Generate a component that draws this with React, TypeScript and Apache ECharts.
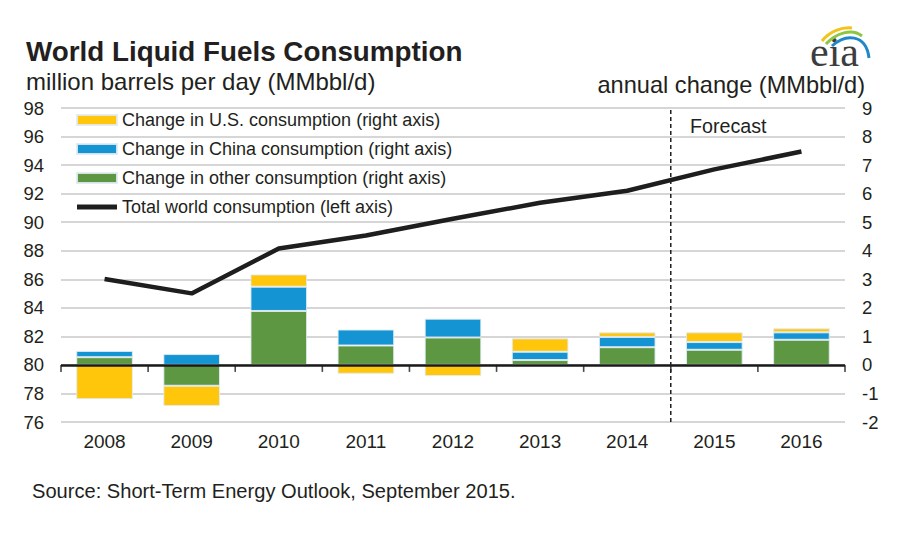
import React, { useEffect, useRef } from "react";
import * as echarts from "echarts";

const years = ["2008", "2009", "2010", "2011", "2012", "2013", "2014", "2015", "2016"];
const otherChange = [0.27, -0.73, 1.89, 0.68, 0.96, 0.17, 0.62, 0.53, 0.88];
const chinaChange = [0.22, 0.38, 0.85, 0.56, 0.66, 0.29, 0.36, 0.27, 0.26];
const usChange = [-1.2, -0.71, 0.43, -0.31, -0.39, 0.47, 0.16, 0.34, 0.14];
const worldTotal = [86.02, 85.01, 88.15, 89.07, 90.24, 91.36, 92.2, 93.7, 94.95];
const forecastBoundary = [[7, 76], [7, 98]];
const zeroChange = 0;
// category boundaries on the zero line (0 .. number of years)
const boundaryTicks = [0, 1, 2, 3, 4, 5, 6, 7, 8, 9].map((b) => [b, zeroChange]);

const FONT = "'Liberation Sans', Arial, sans-serif";
const TXT = "#231f20";

export default function App() {
  const ref = useRef<HTMLDivElement>(null);
  useEffect(() => {
    if (!ref.current) return;
    const chart = echarts.init(ref.current, undefined, { renderer: "svg" });
    const barBorder = { borderColor: "rgba(225,235,242,0.9)", borderWidth: 1 };
    chart.setOption({
      animation: false,
      backgroundColor: "#ffffff",
      textStyle: { fontFamily: FONT },
      grid: { left: 61, right: 52, top: 108, bottom: 118, containLabel: false },
      legend: {
        orient: "vertical",
        left: 76,
        top: 111,
        padding: 0,
        itemWidth: 40,
        itemHeight: 10,
        itemGap: 11,
        selectedMode: false,
        textStyle: { fontSize: 18, color: TXT, fontFamily: FONT },
        data: [
          { name: "Change in U.S. consumption (right axis)", icon: "rect" },
          { name: "Change in China consumption (right axis)", icon: "rect" },
          { name: "Change in other consumption (right axis)", icon: "rect" },
          { name: "Total world consumption (left axis)", icon: "path://M0,0 L40,0 L40,5 L0,5 Z" },
        ],
      },
      xAxis: [
        {
          type: "category",
          data: years,
          position: "bottom",
          axisLine: { show: false, onZero: false },
          axisTick: { show: false },
          axisLabel: { fontSize: 19, color: TXT, margin: 10, fontFamily: FONT },
          splitLine: { show: false },
        },
        { type: "value", min: 0, max: years.length, show: false },
      ],
      yAxis: [
        {
          type: "value",
          min: 76,
          max: 98,
          interval: 2,
          position: "left",
          axisLine: { show: false },
          axisTick: { show: false },
          axisLabel: { fontSize: 18.5, color: TXT, margin: 17, fontFamily: FONT },
          splitLine: { show: true, lineStyle: { color: "#c8c8c8", width: 1.5 } },
        },
        {
          type: "value",
          min: -2,
          max: 9,
          interval: 1,
          position: "right",
          axisLine: { show: false },
          axisTick: { show: false },
          axisLabel: { fontSize: 18.5, color: TXT, margin: 17, fontFamily: FONT },
          splitLine: { show: false },
        },
      ],
      series: [
        {
          name: "Change in other consumption (right axis)",
          type: "bar",
          stack: "chg",
          xAxisIndex: 0,
          yAxisIndex: 1,
          barWidth: "65%",
          data: otherChange,
          itemStyle: { color: "#5d9741", ...barBorder },
        },
        {
          name: "Change in China consumption (right axis)",
          type: "bar",
          stack: "chg",
          xAxisIndex: 0,
          yAxisIndex: 1,
          barWidth: "65%",
          data: chinaChange,
          itemStyle: { color: "#1594d3", ...barBorder },
        },
        {
          name: "Change in U.S. consumption (right axis)",
          type: "bar",
          stack: "chg",
          xAxisIndex: 0,
          yAxisIndex: 1,
          barWidth: "65%",
          data: usChange,
          itemStyle: { color: "#ffc60b", ...barBorder },
          markLine: {
            silent: true,
            symbol: "none",
            label: { show: false },
            lineStyle: { color: "#1a1a1a", width: 2.5, type: "solid" },
            data: [{ yAxis: zeroChange }],
          },
        },
        {
          name: "zero-axis-ticks",
          type: "scatter",
          xAxisIndex: 1,
          yAxisIndex: 1,
          data: boundaryTicks,
          symbol: "rect",
          symbolSize: [1.6, 7],
          symbolOffset: [0, 3.5],
          silent: true,
          z: 4,
          itemStyle: { color: "#1a1a1a" },
        },
        {
          name: "Total world consumption (left axis)",
          type: "line",
          xAxisIndex: 0,
          yAxisIndex: 0,
          data: worldTotal,
          symbol: "none",
          z: 5,
          lineStyle: { color: "#1e1e1e", width: 4.5 },
          itemStyle: { color: "#1e1e1e" },
        },
        {
          name: "forecast-divider",
          type: "line",
          xAxisIndex: 1,
          yAxisIndex: 0,
          data: forecastBoundary,
          symbol: "none",
          silent: true,
          z: 6,
          lineStyle: { color: "#222222", width: 1.5, type: [4, 3] },
        },
      ],
      graphic: [
        {
          type: "text",
          left: 26,
          top: 37,
          style: { text: "World Liquid Fuels Consumption", font: `bold 27.8px ${FONT}`, fill: TXT },
        },
        {
          type: "text",
          left: 26,
          top: 69,
          style: { text: "million barrels per day (MMbbl/d)", font: `24px ${FONT}`, fill: TXT },
        },
        {
          type: "text",
          right: 32,
          top: 73,
          style: { text: "annual change (MMbbl/d)", font: `23.6px ${FONT}`, fill: TXT },
        },
        {
          type: "text",
          left: 690,
          top: 116,
          style: { text: "Forecast", font: `19.7px ${FONT}`, fill: TXT },
        },
        {
          type: "text",
          left: 32,
          top: 481,
          style: { text: "Source: Short-Term Energy Outlook, September 2015.", font: `20.1px ${FONT}`, fill: TXT },
        },
        {
          type: "text",
          left: 810,
          top: 31,
          style: { text: "eia", font: `42px 'Liberation Serif', 'Times New Roman', serif`, fill: "#3d3d3d" },
        },
        {
          type: "bezierCurve",
          shape: { x1: 822, y1: 41, cpx1: 830, cpy1: 31, cpx2: 842, cpy2: 27, x2: 852, y2: 28 },
          style: { stroke: "#f2c318", lineWidth: 3, fill: null },
        },
        {
          type: "bezierCurve",
          shape: { x1: 826, y1: 44, cpx1: 836, cpy1: 33, cpx2: 852, cpy2: 28, x2: 862, y2: 36 },
          style: { stroke: "#8dc63f", lineWidth: 3, fill: null },
        },
        {
          type: "bezierCurve",
          shape: { x1: 832, y1: 46, cpx1: 845, cpy1: 34, cpx2: 866, cpy2: 33, x2: 869, y2: 58 },
          style: { stroke: "#1e88c8", lineWidth: 3, fill: null },
        },
      ],
    });
    return () => chart.dispose();
  }, []);
  return <div ref={ref} style={{ width: 897, height: 540, position: "absolute", left: 0, top: 0 }} />;
}
